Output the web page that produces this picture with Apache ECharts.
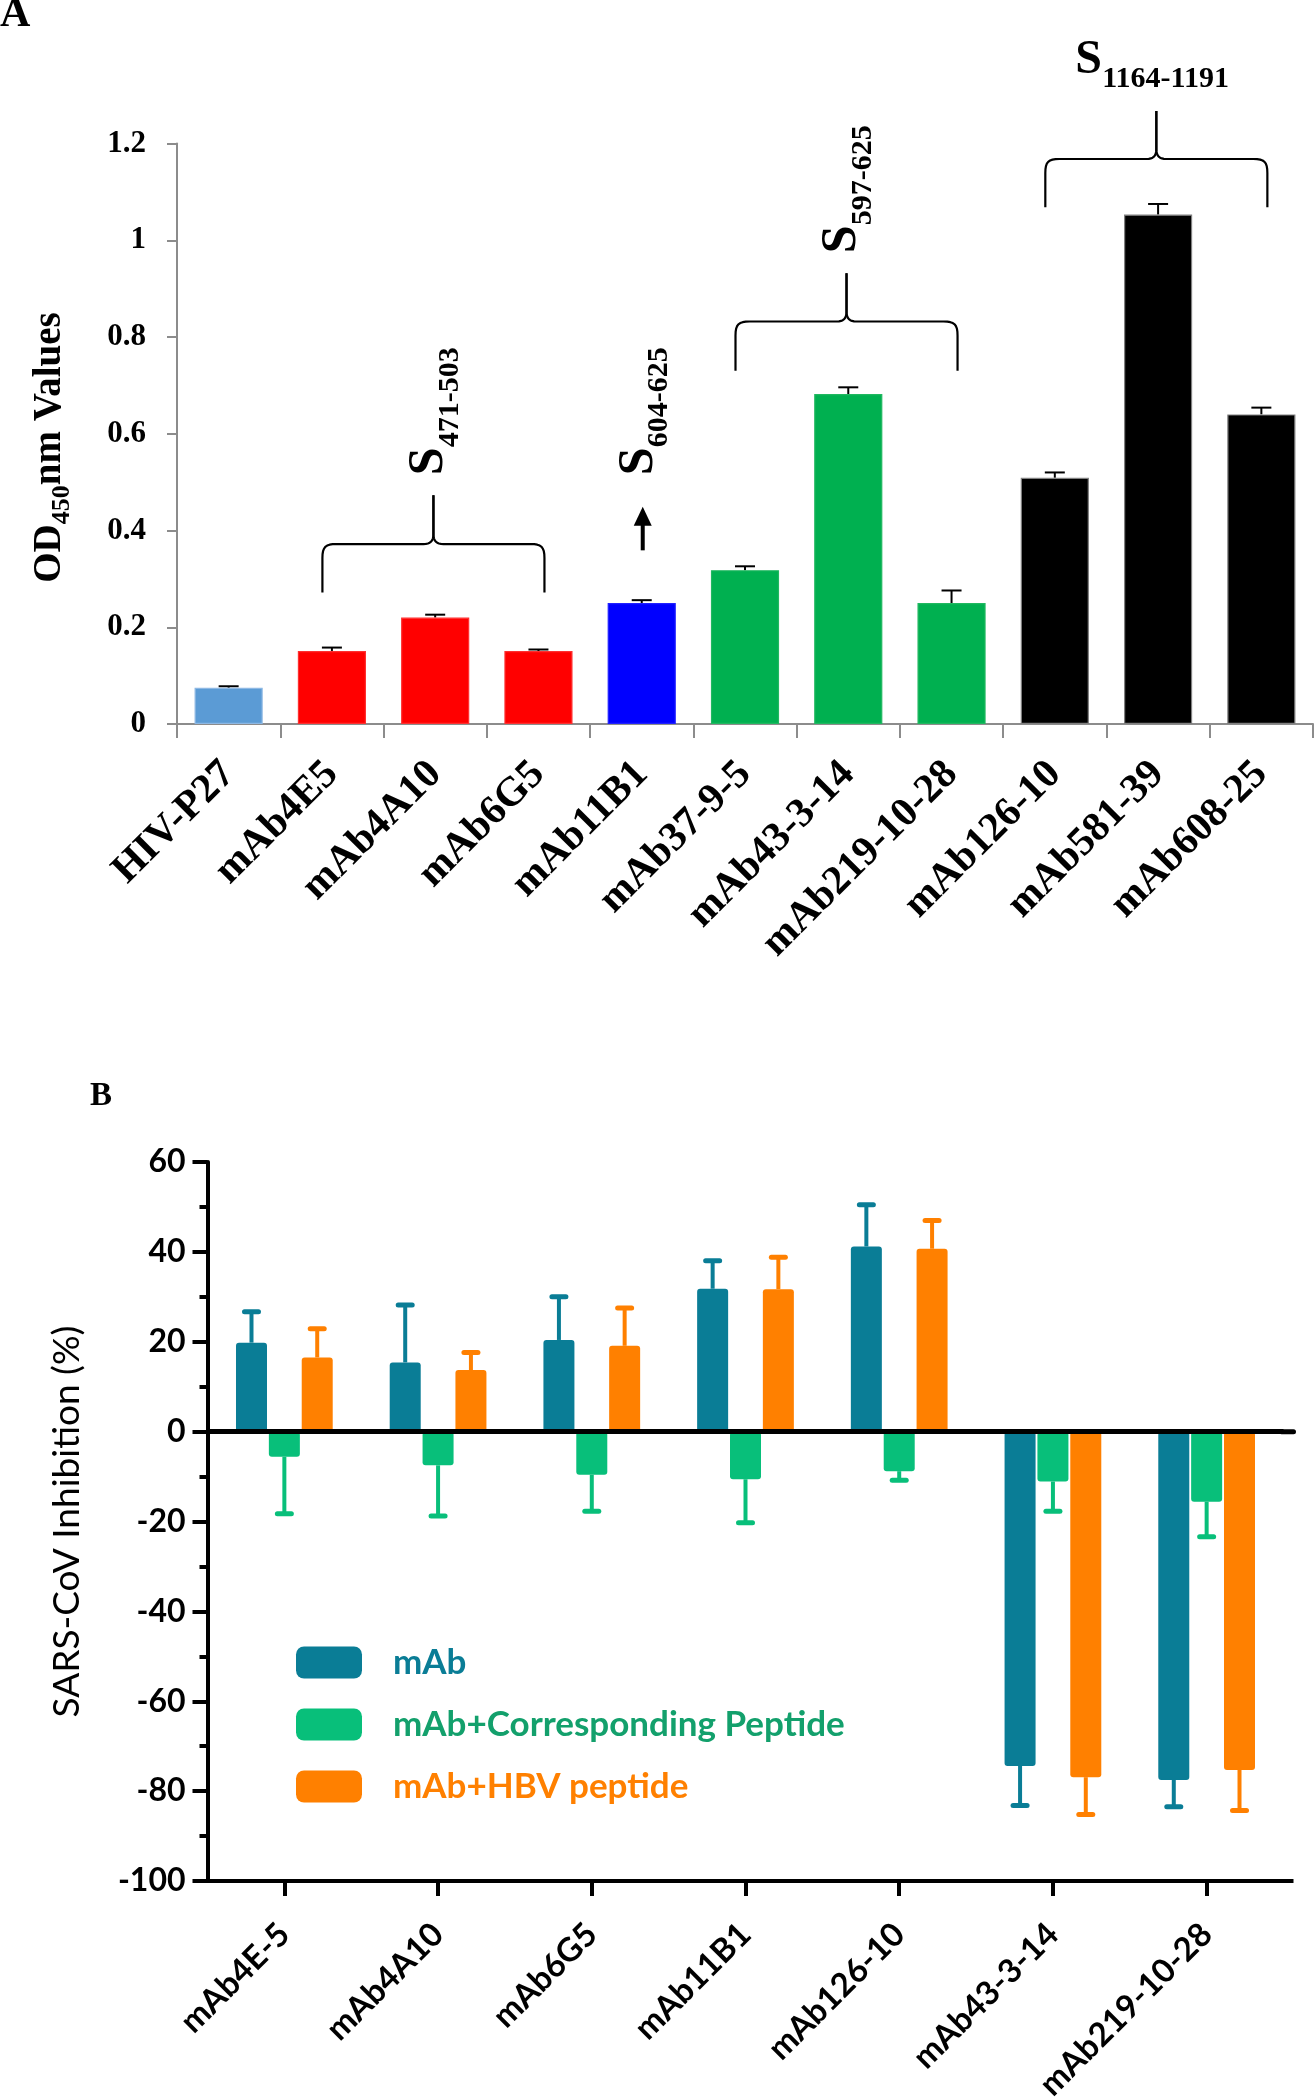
<!DOCTYPE html>
<html>
<head>
<meta charset="utf-8">
<script src="https://cdn.jsdelivr.net/npm/echarts@6/dist/echarts.min.js"></script>
<style>
html,body{margin:0;padding:0;background:#fff;}
#c{width:1316px;height:2100px;}
</style>
</head>
<body>
<div id="c"></div>
<script>
// ---------- Panel A data ----------
const categoriesA = ['HIV-P27','mAb4E5','mAb4A10','mAb6G5','mAb11B1','mAb37-9-5','mAb43-3-14','mAb219-10-28','mAb126-10','mAb581-39','mAb608-25'];
const odValues = [0.075,0.151,0.220,0.151,0.250,0.318,0.682,0.250,0.509,1.053,0.640];
const odErrors = [0.003,0.007,0.006,0.003,0.006,0.008,0.014,0.026,0.011,0.022,0.014];
const yTicksA = [0,0.2,0.4,0.6,0.8,1,1.2];

// ---------- Panel B data ----------
const categoriesB = ['mAb4E-5','mAb4A10','mAb6G5','mAb11B1','mAb126-10','mAb43-3-14','mAb219-10-28'];
const seriesNamesB = ['mAb','mAb+Corresponding Peptide','mAb+HBV peptide'];
const mAbValues = [19.8,15.4,20.4,31.8,41.2,-74.4,-77.5];
const mAbErrors = [6.9,12.8,9.6,6.2,9.3,8.8,6.0];
const pepValues = [-5.6,-7.5,-9.6,-10.6,-8.8,-11.1,-15.6];
const pepErrors = [12.7,11.3,8.1,9.7,2.0,6.6,7.8];
const hbvValues = [16.5,13.7,19.1,31.7,40.7,-76.9,-75.3];
const hbvErrors = [6.4,3.9,8.4,7.1,6.3,8.3,9.0];
const yTicksB = [-100,-80,-60,-40,-20,0,20,40,60];

// ---------- Annotations (panel A) ----------
const braceGroups = [
  {from:'mAb4E5', to:'mAb6G5', leg:0.272, bar:0.372, tip:0.473, sub:'471-503', mode:'vertical'},
  {from:'mAb37-9-5', to:'mAb219-10-28', leg:0.730, bar:0.832, tip:0.932, sub:'597-625', mode:'vertical'},
  {from:'mAb126-10', to:'mAb608-25', leg:1.068, bar:1.168, tip:1.267, sub:'1164-1191', mode:'horizontal'}
];
const arrowNote = {cat:'mAb11B1', from:0.359, to:0.449, labelAt:0.514, sub:'604-625'};

// ---------- styles ----------
const barColorsA = ['#5B9BD5','#FF0000','#FF0000','#FF0000','#0000FF','#00B050','#00B050','#00B050','#000000','#000000','#000000'];
const barBordersA = ['#8DB8E4','#FF3030','#FF3030','#FF3030','#2020FF','#20B860','#20B860','#20B860','#808080','#808080','#808080'];
const colorsB = ['#0A7D96','#08BF7A','#FF8000'];
const legendTextColorsB = ['#0A7D96','#13A06C','#FF8000'];
const SERIF = '"Liberation Serif", "Times New Roman", serif';
const SANS = 'Lato, "Open Sans", sans-serif';
const BAR_W_B = 31, BAR_GAP_B = 0.06;

const chart = echarts.init(document.getElementById('c'), null, {renderer:'canvas', width:1316, height:2100});

function errA() {
  return {
    type:'custom', xAxisIndex:0, yAxisIndex:0, z:1, silent:true,
    data: odValues.map((v,i)=>[i, v, v + odErrors[i]]),
    renderItem(params, api){
      const b = api.coord([api.value(0), api.value(1)]);
      const t = api.coord([api.value(0), api.value(2)]);
      const hw = 10;
      return {type:'group', children:[
        {type:'line', shape:{x1:b[0], y1:b[1], x2:t[0], y2:t[1]}, style:{stroke:'#000', lineWidth:2}},
        {type:'line', shape:{x1:t[0]-hw, y1:t[1], x2:t[0]+hw, y2:t[1]}, style:{stroke:'#000', lineWidth:2}}
      ]};
    }
  };
}

function errB(vals, errs, color, k) {
  const offset = k * BAR_W_B * (1 + BAR_GAP_B);
  return {
    type:'custom', xAxisIndex:1, yAxisIndex:1, z:1, silent:true,
    data: vals.map((v,i)=>[i, v, v + Math.sign(v) * errs[i]]),
    renderItem(params, api){
      const b = api.coord([api.value(0), api.value(1)]);
      const t = api.coord([api.value(0), api.value(2)]);
      const x = b[0] + offset;
      const hw = 7;
      return {type:'group', children:[
        {type:'line', shape:{x1:x, y1:b[1], x2:x, y2:t[1]}, style:{stroke:color, lineWidth:4}},
        {type:'line', shape:{x1:x-hw, y1:t[1], x2:x+hw, y2:t[1]}, style:{stroke:color, lineWidth:5, lineCap:'round'}}
      ]};
    }
  };
}

const option = {
  animation:false,
  backgroundColor:'#fff',
  grid:[
    {left:177, top:143.5, width:1136, height:580.5, outerBoundsMode:'none', containLabel:false},
    {left:207.5, top:1162, width:1076, height:719, outerBoundsMode:'none', containLabel:false}
  ],
  legend:{
    orient:'vertical', left:291, top:1640, itemWidth:66, itemHeight:32, itemGap:27,
    icon:'roundRect', selectedMode:false,
    data: seriesNamesB.map((n,i)=>({name:n, textStyle:{color:legendTextColorsB[i]}})),
    textStyle:{fontFamily:SANS, fontWeight:'bold', fontSize:35, padding:[0,0,0,26]}
  },
  xAxis:[
    {
      type:'category', gridIndex:0, data:categoriesA,
      axisLine:{show:true, lineStyle:{color:'#8c8c8c', width:2}},
      axisTick:{show:true, alignWithLabel:false, length:14, lineStyle:{color:'#8c8c8c', width:2}},
      axisLabel:{interval:0, rotate:45, margin:44, color:'#000', fontFamily:SERIF, fontWeight:'bold', fontSize:41},
      splitLine:{show:false}
    },
    {
      type:'category', gridIndex:1, data:categoriesB,
      axisLine:{show:true, onZero:false, lineStyle:{color:'#000', width:4}},
      axisTick:{show:true, alignWithLabel:true, length:15, lineStyle:{color:'#000', width:4}},
      axisLabel:{interval:0, rotate:45, margin:48, color:'#000', fontFamily:SANS, fontWeight:'bold', fontSize:33},
      splitLine:{show:false}
    }
  ],
  yAxis:[
    {
      type:'value', gridIndex:0, min:yTicksA[0], max:yTicksA[yTicksA.length-1], interval:0.2,
      axisLine:{show:true, lineStyle:{color:'#8c8c8c', width:2}},
      axisTick:{show:true, length:10, lineStyle:{color:'#8c8c8c', width:2}},
      axisLabel:{margin:31, color:'#000', fontFamily:SERIF, fontWeight:'bold', fontSize:31},
      splitLine:{show:false}
    },
    {
      type:'value', gridIndex:1, min:yTicksB[0], max:yTicksB[yTicksB.length-1], interval:20,
      axisLine:{show:true, onZero:false, lineStyle:{color:'#000', width:4}},
      axisTick:{show:true, length:15, lineStyle:{color:'#000', width:4}},
      minorTick:{show:true, splitNumber:2, length:8, lineStyle:{color:'#000', width:4}},
      axisLabel:{margin:22, color:'#000', fontFamily:SANS, fontWeight:'bold', fontSize:32},
      splitLine:{show:false},
      name:'SARS-CoV Inhibition (%)', nameLocation:'middle', nameGap:122,
      nameTextStyle:{color:'#000', fontFamily:SANS, fontWeight:'normal', fontSize:37}
    }
  ],
  series:[
    {
      type:'bar', xAxisIndex:0, yAxisIndex:0, barCategoryGap:'34%', z:2,
      data: odValues.map((v,i)=>({value:v, itemStyle:{color:barColorsA[i], borderColor:barBordersA[i], borderWidth:1.2}}))
    },
    errA(),
    {
      name:seriesNamesB[0], type:'bar', xAxisIndex:1, yAxisIndex:1, barWidth:BAR_W_B, barGap:(BAR_GAP_B*100)+'%', z:2,
      itemStyle:{color:colorsB[0], borderRadius:3}, data:mAbValues,
      markLine:{silent:true, symbol:['none','none'], label:{show:false},
        lineStyle:{color:'#000', width:5, type:'solid'}, data:[{yAxis:0}]}
    },
    {
      name:seriesNamesB[1], type:'bar', xAxisIndex:1, yAxisIndex:1, barWidth:BAR_W_B, barGap:(BAR_GAP_B*100)+'%', z:2,
      itemStyle:{color:colorsB[1], borderRadius:3}, data:pepValues
    },
    {
      name:seriesNamesB[2], type:'bar', xAxisIndex:1, yAxisIndex:1, barWidth:BAR_W_B, barGap:(BAR_GAP_B*100)+'%', z:2,
      itemStyle:{color:colorsB[2], borderRadius:3}, data:hbvValues
    },
    errB(mAbValues, mAbErrors, colorsB[0], -1),
    errB(pepValues, pepErrors, colorsB[1], 0),
    errB(hbvValues, hbvErrors, colorsB[2], 1)
  ]
};
chart.setOption(option);

// ---------- annotation graphics anchored to data coordinates ----------
const px = (cat, v) => chart.convertToPixel({gridIndex:0}, [cat, v]);
const pxB = (cat, v) => chart.convertToPixel({gridIndex:1}, [cat, v]);
const graphics = [];

function sLabel(x, y, sub, rotated) {
  const sSize = rotated ? 50 : 48;
  const subSize = 30;
  return {
    type:'group', x:x, y:y, rotation: rotated ? Math.PI/2 : 0, silent:true,
    children:[
      {type:'text', x:0, y:0, style:{text:'S', fontFamily:SERIF, fontWeight:'bold', fontSize:sSize, fill:'#000', align:'left', verticalAlign:'middle'}},
      {type:'text', x:sSize*0.56, y:rotated ? 21 : 18, style:{text:sub, fontFamily:SERIF, fontWeight:'bold', fontSize:subSize, fill:'#000', align:'left', verticalAlign:'middle'}}
    ]
  };
}

// sample helpers for the curly-brace outline
function cubicPts(p0, p1, p2, p3, n) {
  const out = [];
  for (let i = 1; i <= n; i++) {
    const t = i / n, u = 1 - t;
    out.push([
      u*u*u*p0[0] + 3*u*u*t*p1[0] + 3*u*t*t*p2[0] + t*t*t*p3[0],
      u*u*u*p0[1] + 3*u*u*t*p1[1] + 3*u*t*t*p2[1] + t*t*t*p3[1]
    ]);
  }
  return out;
}
function halfBrace(xl, dir, xm, yb, yh, yt) {
  const r = 14, r2 = 10;
  let pts = [[xl, yb], [xl, yh + r]];
  pts = pts.concat(cubicPts([xl, yh + r], [xl, yh + 3], [xl + dir*3, yh], [xl + dir*r, yh], 8));
  pts.push([xm - dir*r2, yh]);
  pts = pts.concat(cubicPts([xm - dir*r2, yh], [xm - dir*3, yh], [xm, yh - 3], [xm, yh - r2], 8));
  pts.push([xm, yt]);
  return pts;
}

braceGroups.forEach(g => {
  const x1 = px(g.from, g.leg)[0] - 9.5;
  const x2 = px(g.to, g.leg)[0] + 6;
  const yb = px(g.from, g.leg)[1];
  const yh = px(g.from, g.bar)[1];
  const yt = px(g.from, g.tip)[1];
  const xm = (x1 + x2) / 2;
  [[x1, 1], [x2, -1]].forEach(([xl, dir]) => {
    graphics.push({type:'polyline', silent:true, shape:{points:halfBrace(xl, dir, xm, yb, yh, yt)},
      style:{stroke:'#000', lineWidth:2.2, fill:null, lineJoin:'round'}});
  });
  if (g.mode === 'vertical') {
    graphics.push(sLabel(xm - 4, yt - 20, g.sub, true));
  } else {
    graphics.push(sLabel(xm - 81, yt - 50, g.sub, false));
  }
});

// arrow + label for S604-625
(function(){
  const a0 = px(arrowNote.cat, arrowNote.from);
  const a1 = px(arrowNote.cat, arrowNote.to);
  const lab = px(arrowNote.cat, arrowNote.labelAt);
  const x = a0[0] + 1;
  graphics.push({type:'line', silent:true, shape:{x1:x, y1:a0[1], x2:x, y2:a1[1]+16}, style:{stroke:'#000', lineWidth:4}});
  graphics.push({type:'polygon', silent:true, shape:{points:[[x, a1[1]], [x-9, a1[1]+19], [x+9, a1[1]+19]]}, style:{fill:'#000'}});
  graphics.push(sLabel(lab[0] - 3, lab[1], arrowNote.sub, true));
})();

// y-axis title for panel A with subscript
(function(){
  const yMid = px(categoriesA[0], 0.6)[1];
  graphics.push({
    type:'group', x:50, y:yMid + 149, rotation:Math.PI/2, silent:true,
    children:[
      {type:'text', x:0, y:0, style:{text:'OD', fontFamily:SERIF, fontWeight:'bold', fontSize:39, fill:'#000', align:'left', verticalAlign:'middle'}},
      {type:'text', x:58.5, y:12.5, style:{text:'450', fontFamily:SERIF, fontWeight:'bold', fontSize:26, fill:'#000', align:'left', verticalAlign:'middle'}},
      {type:'text', x:97.5, y:0, style:{text:'nm Values', fontFamily:SERIF, fontWeight:'bold', fontSize:39, fill:'#000', align:'left', verticalAlign:'middle'}}
    ]
  });
})();

// panel B axis/zero-line extension past the last band (as in the original figure)
(function(){
  const nB = categoriesB.length;
  const last = pxB(categoriesB[nB-1], 0);
  const prev = pxB(categoriesB[nB-2], 0);
  const right = last[0] + (last[0] - prev[0]) / 2;
  const yZero = last[1];
  const yBottom = pxB(categoriesB[nB-1], yTicksB[0])[1];
  graphics.push({type:'line', silent:true, shape:{x1:right-2, y1:yZero, x2:right+10, y2:yZero}, style:{stroke:'#000', lineWidth:5, lineCap:'round'}});
  graphics.push({type:'line', silent:true, shape:{x1:right-2, y1:yBottom, x2:right+10, y2:yBottom}, style:{stroke:'#000', lineWidth:4}});
})();

// panel letters
graphics.push({type:'text', x:0, y:-6, silent:true, style:{text:'A', fontFamily:SERIF, fontWeight:'bold', fontSize:42, fill:'#000', align:'left', verticalAlign:'top'}});
graphics.push({type:'text', x:90, y:1080, silent:true, style:{text:'B', fontFamily:SERIF, fontWeight:'bold', fontSize:33, fill:'#000', align:'left', verticalAlign:'top'}});

chart.setOption({graphic:graphics});
</script>
</body>
</html>
